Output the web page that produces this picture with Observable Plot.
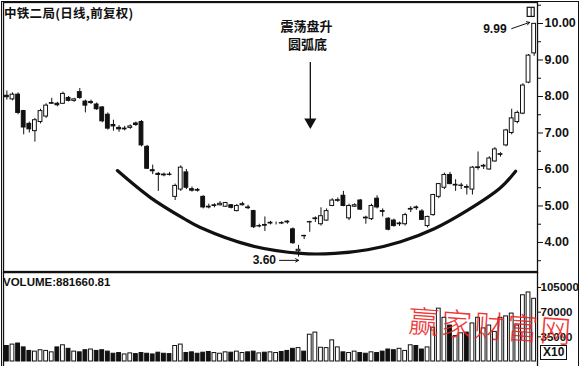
<!DOCTYPE html>
<html><head><meta charset="utf-8">
<script src="https://cdn.jsdelivr.net/npm/d3@7"></script>
<script src="https://cdn.jsdelivr.net/npm/@observablehq/plot@0.6"></script>
<style>
body{margin:0;background:#fff;}
#wrap{position:relative;width:580px;height:366px;overflow:hidden;font-family:"Liberation Sans",Arial,sans-serif;background:#fff;}
#wrap svg{position:absolute;left:0;overflow:visible;}
#border{position:absolute;left:1px;top:1px;width:576px;height:400px;border:1.5px solid #111;pointer-events:none;}
.lbl{position:absolute;font-weight:bold;color:#111;white-space:nowrap;}
</style></head><body><div id="wrap"></div>
<script>
// ---- data ----
const title = "中铁二局(日线,前复权)";
const volumeLabel = "VOLUME:881660.81";
const open  = [8.02,7.92,8.05,7.60,7.25,7.05,7.30,7.45,7.80,7.80,7.80,7.96,7.88,8.12,7.86,7.82,7.78,7.70,7.50,7.22,7.14,7.10,7.14,7.26,7.30,6.62,5.98,5.88,5.86,5.86,5.25,5.45,5.92,5.46,5.44,5.25,4.98,5.00,5.02,4.98,5.02,4.86,5.02,4.96,4.86,4.44,4.48,4.52,4.52,4.53,4.57,4.36,3.76,4.18,4.55,4.64,4.50,4.60,5.00,5.14,5.28,4.66,4.98,5.15,4.68,4.64,5.20,4.86,4.65,4.60,4.50,4.50,4.90,4.96,4.85,4.45,4.75,5.25,5.50,5.85,5.56,5.55,5.52,5.45,6.04,6.08,6.00,6.22,6.40,6.66,7.00,7.30,7.53,8.38,9.18];
const high  = [8.15,8.10,8.10,7.62,7.30,7.40,7.65,7.80,7.95,7.84,8.12,8.00,7.95,8.22,7.90,7.90,7.82,7.72,7.55,7.35,7.20,7.18,7.22,7.30,7.34,6.66,6.12,5.92,5.90,5.92,5.60,6.10,6.00,5.52,5.48,5.28,5.05,5.06,5.12,5.10,5.04,5.04,5.10,5.02,4.88,4.50,4.70,4.58,4.56,4.57,4.60,4.40,3.92,4.20,4.58,4.70,4.95,4.92,5.20,5.22,5.40,5.05,5.06,5.18,4.72,5.05,5.28,4.92,4.68,4.64,4.56,4.80,4.98,5.00,4.90,4.72,5.32,5.62,5.90,5.92,5.72,5.62,5.58,6.08,6.48,6.14,6.35,6.60,6.46,7.10,7.65,7.60,8.35,9.15,9.99];
const low   = [7.90,7.88,7.50,6.95,7.00,6.75,7.25,7.40,7.78,7.72,7.78,7.85,7.84,7.92,7.55,7.78,7.62,7.28,7.08,7.05,7.02,7.06,7.10,7.18,6.62,6.00,5.86,5.40,5.80,5.82,5.15,5.40,5.45,5.38,5.38,4.92,4.92,4.95,5.00,4.96,4.92,4.84,5.00,4.90,4.38,4.40,4.30,4.48,4.48,4.49,4.50,3.95,3.60,4.08,4.28,4.55,4.45,4.58,4.98,5.10,4.98,4.60,4.96,4.88,4.50,4.60,4.92,4.70,4.32,4.42,4.44,4.45,4.82,4.88,4.60,4.40,4.72,5.20,5.45,5.58,5.40,5.45,5.30,5.30,5.98,6.00,5.98,6.20,6.34,6.62,6.95,7.25,7.50,8.35,9.10];
const close = [7.98,8.05,7.55,7.15,7.10,7.35,7.60,7.75,7.82,7.76,8.07,7.88,7.92,7.96,7.75,7.85,7.65,7.32,7.12,7.18,7.10,7.12,7.18,7.22,6.66,6.02,5.95,5.85,5.84,5.85,5.55,6.05,5.50,5.42,5.42,4.96,4.96,5.02,5.06,5.08,4.95,5.00,5.05,4.94,4.42,4.45,4.46,4.54,4.52,4.52,4.55,3.98,3.80,4.17,4.56,4.66,4.72,4.86,5.15,5.16,5.00,5.00,5.02,4.90,4.66,5.00,4.96,4.84,4.35,4.45,4.52,4.75,4.92,4.94,4.62,4.70,5.30,5.60,5.85,5.60,5.58,5.56,5.50,6.05,6.06,6.10,6.30,6.55,6.42,7.07,7.40,7.55,8.30,9.12,9.99];
const volume = [22000,24000,25500,20000,15000,14000,16000,15000,13000,20000,23000,18000,14000,13000,16000,17000,15000,16000,14000,11000,12000,10000,11500,10500,12000,11000,10000,12500,11000,10500,22000,24000,12000,13000,11000,12500,13500,12000,11000,13000,12500,14000,12000,13000,14000,11500,12500,13000,12000,13500,15000,18000,19000,14000,38000,41000,19500,19000,30000,20000,13000,12000,14000,12000,11000,13000,12000,14000,17000,16000,18000,15000,23000,22000,17000,20000,48000,75000,62000,51000,36000,40000,41000,54000,62000,47000,51000,42000,62000,64000,68000,51000,94000,98000,89000];
const priceTicks = [4,5,6,7,8,9,10];
const priceMinorTicks = [3.5,4.5,5.5,6.5,7.5,8.5,9.5,10.5];
const volumeTicks = [35000,70000,105000];
// rounded-bottom trend arc, read as (day index, price) points
const arcIndex = [19.7,25.6,31.5,34.5,43.4,52.4,58.5,64.3,70.2,76.1,82.1,88.0,90.7];
const arcPrice = [5.97,5.23,4.66,4.41,3.92,3.70,3.70,3.80,4.02,4.37,4.88,5.50,5.95];

const candles = open.map((o,i)=>({i, open:o, high:high[i], low:low[i], close:close[i], vol:volume[i], up: close[i] >= o}));
const arc = arcIndex.map((x,k)=>({x, y: arcPrice[k]}));

const W = 580, N = candles.length;
const xDomain = [-0.6, N - 0.4];
const hw = 0.34;
const font = "Liberation Sans, Arial, sans-serif";
const cjk = "Noto Sans CJK SC, sans-serif";

const price = Plot.plot({
  width: W, height: 272,
  marginLeft: 3, marginRight: 43, marginTop: 2, marginBottom: 1,
  style: {fontFamily: font, background: "transparent", overflow: "visible"},
  x: {domain: xDomain, axis: null},
  y: {domain: [3.205, 10.575], label: null},
  marks: [
    Plot.frame({stroke: "#111", strokeWidth: 1.3}),
    Plot.axisY(priceMinorTicks, {anchor: "right", tickSize: 3, tickFormat: () => "", stroke: "#111", label: null}),
    Plot.axisY(priceTicks, {anchor: "right", tickSize: 5, tickPadding: 2, tickFormat: d => d.toFixed(2), fontSize: 12.5, fontWeight: "bold", fill: "#111", stroke: "#111", label: null}),
    Plot.line(arc, {x: "x", y: "y", curve: "catmull-rom", stroke: "#111", strokeWidth: 3.2}),
    Plot.ruleX(candles, {x: "i", y1: "low", y2: "high", stroke: "#111", strokeWidth: 1}),
    Plot.rect(candles, {x1: d => d.i - hw, x2: d => d.i + hw, y1: d => Math.min(d.open, d.close), y2: d => Math.max(d.open, d.close), fill: d => d.up ? "#fff" : "#111", stroke: "#111", strokeWidth: 1}),
    Plot.text(["震荡盘升"], {x: 53.4, y: 9.92, fontFamily: cjk, fontSize: 13, fontWeight: "bold", fill: "#111", style: "letter-spacing:3px"}),
    Plot.text(["圆弧底"], {x: 53.6, y: 9.42, fontFamily: cjk, fontSize: 13, fontWeight: "bold", fill: "#111"}),
    Plot.ruleX([54.1], {y1: 8.93, y2: 7.3, stroke: "#111", strokeWidth: 1.3}),
    Plot.dot([0], {x: 54.1, y: 7.3, symbol: "triangle", r: 4.5, rotate: 180, fill: "#111", stroke: "none"}),
    Plot.text(["3.60"], {x: 45.9, y: 3.51, fontSize: 12, fontWeight: "bold", fill: "#111"}),
    Plot.arrow([0], {x1: 48.6, y1: 3.51, x2: 52.0, y2: 3.51, stroke: "#111", strokeWidth: 1, headLength: 5}),
    Plot.text(["9.99"], {x: 87.0, y: 9.84, fontSize: 12, fontWeight: "bold", fill: "#111"}),
    Plot.arrow([0], {x1: 90.0, y1: 9.86, x2: 93.2, y2: 10.03, stroke: "#111", strokeWidth: 1, headLength: 5}),
    // small window-button box at top right
    Plot.rect([0], {x1: 92.85, x2: 94.1, y1: 10.18, y2: 10.43, fill: "#fff", stroke: "#111", strokeWidth: 1.2}),
    Plot.ruleX([93.47], {y1: 10.18, y2: 10.43, stroke: "#111", strokeWidth: 1})
  ]
});
price.style.top = "0px";

const vol = Plot.plot({
  width: W, height: 94,
  marginLeft: 3, marginRight: 43, marginTop: 0, marginBottom: 0,
  style: {fontFamily: font, background: "transparent", overflow: "visible"},
  x: {domain: xDomain, axis: null},
  y: {domain: [-7100, 126300], label: null},
  marks: [
    Plot.frame({anchor: "top", stroke: "#111", strokeWidth: 1.3}),
    Plot.frame({anchor: "left", stroke: "#111", strokeWidth: 1.3}),
    Plot.frame({anchor: "right", stroke: "#111", strokeWidth: 1.3}),
    Plot.axisY(volumeTicks, {anchor: "right", tickSize: 3, tickPadding: 0, tickFormat: d => String(d), fontSize: 11.5, fontWeight: "bold", fill: "#111", stroke: "#111", label: null, style: "letter-spacing:-0.3px"}),
    Plot.rect(candles, {x1: d => d.i - hw, x2: d => d.i + hw, y1: 0, y2: "vol", fill: d => d.up ? "#fff" : "#111", stroke: "#111", strokeWidth: 1})
  ]
});
vol.style.top = "272px";

const wrap = document.getElementById("wrap");
wrap.appendChild(price);
wrap.appendChild(vol);

function label(text, css){
  const s = document.createElement("span");
  s.className = "lbl"; s.textContent = text; s.style.cssText += css;
  wrap.appendChild(s);
}
label(title, "left:4px;top:3px;font-size:12.5px;font-family:'Noto Sans CJK SC',sans-serif;letter-spacing:0.3px;");
label(volumeLabel, "left:3px;top:276px;font-size:11.5px;");
label("X10", "left:540px;top:345px;font-size:12px;border:1.5px solid #111;padding:0 2px;line-height:13px;");
label("赢家财富网", "left:410px;top:296px;font-size:31px;font-weight:300;color:#e22;font-family:'Noto Sans CJK SC',sans-serif;transform:rotate(4deg);transform-origin:left top;letter-spacing:2px;opacity:0.9;");
const b = document.createElement("div"); b.id = "border"; wrap.appendChild(b);
</script>
</body></html>
